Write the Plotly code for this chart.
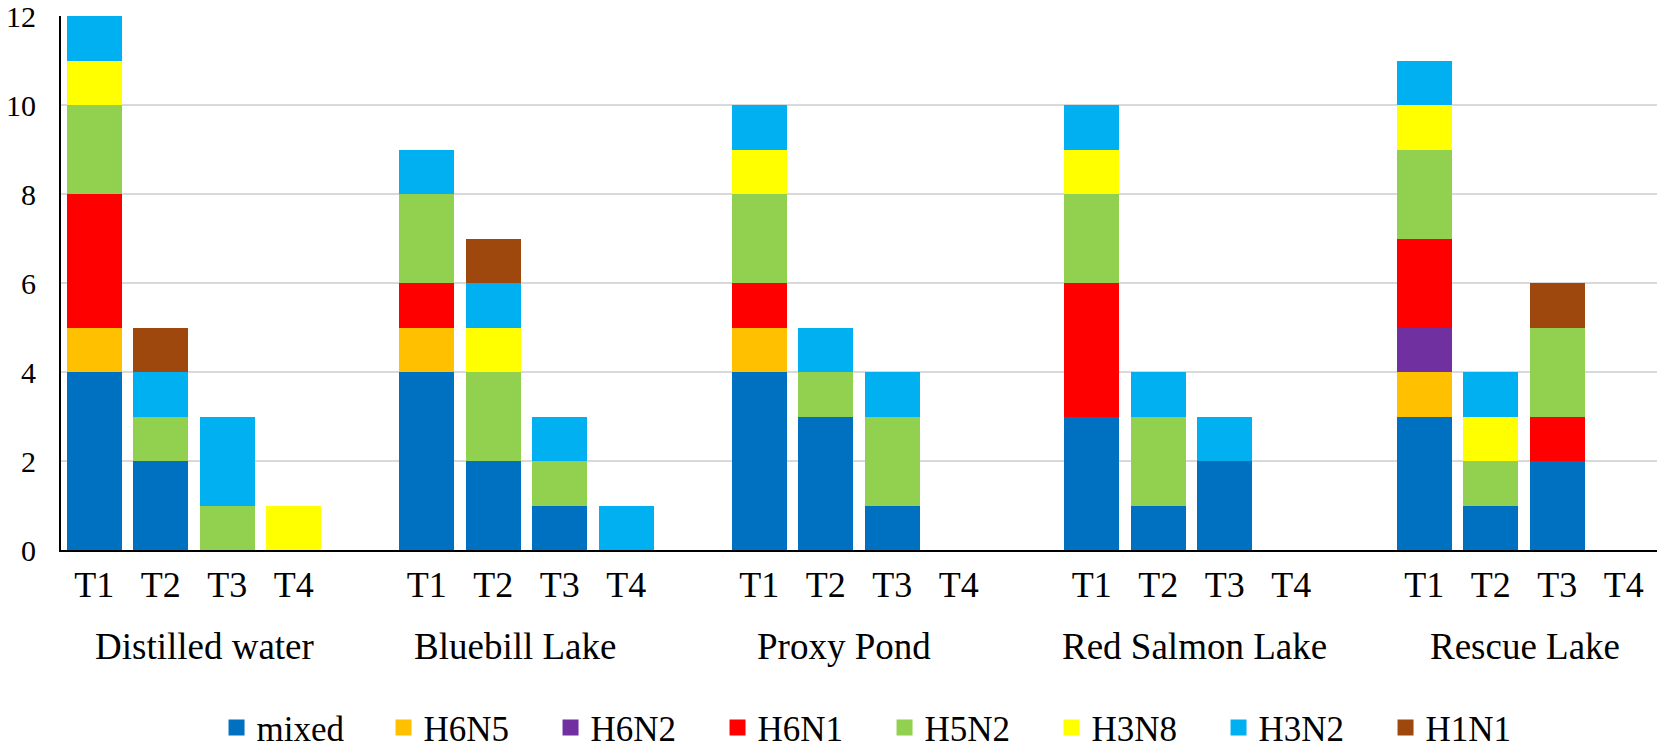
import plotly.graph_objects as go

groups = ["Distilled water", "Bluebill Lake", "Proxy Pond", "Red Salmon Lake", "Rescue Lake"]
times = ["T1", "T2", "T3", "T4"]
series = ["mixed", "H6N5", "H6N2", "H6N1", "H5N2", "H3N8", "H3N2", "H1N1"]
colors = ["#0070C0", "#FFC000", "#7030A0", "#FF0000", "#92D050", "#FFFF00", "#00B0F0", "#9E480E"]

# values per series, order: group (Distilled, Bluebill, Proxy, Red Salmon, Rescue) x T1..T4
mixed = [4, 2, 0, 0,  4, 2, 1, 0,  4, 3, 1, 0,  3, 1, 2, 0,  3, 1, 2, 0]
H6N5  = [1, 0, 0, 0,  1, 0, 0, 0,  1, 0, 0, 0,  0, 0, 0, 0,  1, 0, 0, 0]
H6N2  = [0, 0, 0, 0,  0, 0, 0, 0,  0, 0, 0, 0,  0, 0, 0, 0,  1, 0, 0, 0]
H6N1  = [3, 0, 0, 0,  1, 0, 0, 0,  1, 0, 0, 0,  3, 0, 0, 0,  2, 0, 1, 0]
H5N2  = [2, 1, 1, 0,  2, 2, 1, 0,  2, 1, 2, 0,  2, 2, 0, 0,  2, 1, 2, 0]
H3N8  = [1, 0, 0, 1,  0, 1, 0, 0,  1, 0, 0, 0,  1, 0, 0, 0,  1, 1, 0, 0]
H3N2  = [1, 1, 2, 0,  1, 1, 1, 1,  1, 1, 1, 0,  1, 1, 1, 0,  1, 1, 0, 0]
H1N1  = [0, 1, 0, 0,  0, 1, 0, 0,  0, 0, 0, 0,  0, 0, 0, 0,  0, 0, 1, 0]
values = [mixed, H6N5, H6N2, H6N1, H5N2, H3N8, H3N2, H1N1]

FONT = "Liberation Serif, Times New Roman, serif"
FS = 36

# positions: each group has 4 slots plus one empty spacer slot
xpos = [g * 5 + t for g in range(len(groups)) for t in range(len(times))]
xlabels = [t for g in groups for t in times]

# small horizontal nudges (px) of the group labels, as laid out in the reference
label_shift = [10, -12, -15, 3, 1]

fig = go.Figure()
for name, col, vals in zip(series, colors, values):
    fig.add_trace(go.Bar(x=xpos, y=vals, name=name, marker=dict(color=col, line=dict(width=0)),
                         showlegend=False))
# legend proxies with larger square symbols
for name, col in zip(series, colors):
    fig.add_trace(go.Scatter(x=[None], y=[None], mode="markers", name=name,
                             marker=dict(symbol="square", size=16, color=col)))

for g, gname in enumerate(groups):
    fig.add_annotation(x=g * 5 + 1.5, y=-0.18, xref="x", yref="paper", text=gname,
                       showarrow=False, yanchor="middle", xanchor="center",
                       xshift=label_shift[g],
                       font=dict(family=FONT, size=37, color="black"))

fig.update_layout(
    barmode="stack",
    bargap=0.173,
    width=1660, height=751,
    margin=dict(l=61, r=3, t=16, b=201, autoexpand=False),
    paper_bgcolor="white", plot_bgcolor="white",
    font=dict(family=FONT, size=FS, color="black"),
    legend=dict(orientation="h", x=0.516, xanchor="center", y=-0.333, yanchor="middle",
                traceorder="normal", entrywidth=122, entrywidthmode="pixels",
                font=dict(family=FONT, size=35, color="black"),
                bgcolor="rgba(0,0,0,0)", borderwidth=0, itemwidth=30),
    showlegend=True,
)
fig.update_xaxes(range=[-0.5, 23.5], tickmode="array", tickvals=xpos, ticktext=xlabels,
                 showgrid=False, showline=True, linecolor="black", linewidth=2,
                 ticks="", ticklabelstandoff=2, zeroline=False,
                 tickfont=dict(family=FONT, size=FS, color="black"))
fig.update_yaxes(range=[0, 12], dtick=2, showgrid=True, gridcolor="#D9D9D9", gridwidth=1.5,
                 showline=True, linecolor="black", linewidth=2, ticks="",
                 ticklabelstandoff=17, ticklabeloverflow="allow", zeroline=False,
                 tickfont=dict(family=FONT, size=30, color="black"))

fig.write_html("out.html", config={"displayModeBar": False},
               post_script="document.body.style.margin='0';document.body.style.overflow='hidden';")
